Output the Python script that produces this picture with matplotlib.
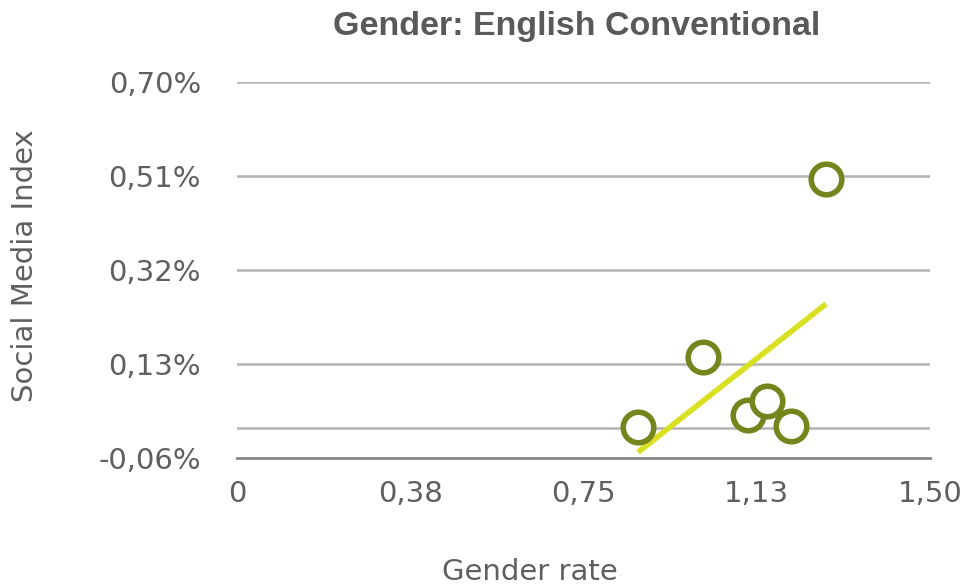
import numpy as np
import matplotlib.pyplot as plt

plt.rcParams['font.family'] = ['DejaVu Sans']

# Datos (valores en %)
gender_rate = [0.868, 1.009, 1.106, 1.147, 1.199, 1.275]
social_index = [0.003, 0.144, 0.027, 0.055, 0.005, 0.504]

x_ticks = [0, 0.375, 0.75, 1.125, 1.5]
x_labels = ["0", "0,38", "0,75", "1,13", "1,50"]
y_ticks = [-0.06, 0.13, 0.32, 0.51, 0.70]
y_labels = ["-0,06%", "0,13%", "0,32%", "0,51%", "0,70%"]

txt = "#5f5f5f"
grid_c = "#b3b3b3"

fig = plt.figure(figsize=(9.66, 5.86), dpi=100)
ax = fig.add_axes([237 / 966, 1 - 458 / 586, 693 / 966, 376 / 586])

for y in y_ticks[1:]:
    ax.axhline(y, color=grid_c, lw=1.8, zorder=1)
ax.axhline(0, color=grid_c, lw=1.8, zorder=1)

# linea de tendencia (regresion lineal)
m, b = np.polyfit(gender_rate, social_index, 1)
xs = np.array([min(gender_rate), max(gender_rate)])
ax.plot(xs, m * xs + b, color="#d9e021", lw=4, zorder=2, solid_capstyle="butt")

ax.plot(gender_rate, social_index, "o", ms=22, mfc="white", mec="#76841e",
        mew=4, zorder=3)

ax.set_xlim(0, 1.5)
ax.set_ylim(-0.06, 0.70)
ax.set_xticks(x_ticks)
ax.set_xticklabels(x_labels)
ax.set_yticks(y_ticks)
ax.set_yticklabels(y_labels)
ax.tick_params(length=0, labelsize=21, labelcolor=txt)
ax.tick_params(axis="y", pad=26)
ax.tick_params(axis="x", pad=16)

for s in ["top", "right", "left"]:
    ax.spines[s].set_visible(False)
ax.spines["bottom"].set_color("#868686")
ax.spines["bottom"].set_linewidth(2)

fig.text(25 / 966, 1 - 266 / 586, "Social Media Index", rotation=90,
         ha="center", va="center", fontsize=21, color=txt)
fig.text(530 / 966, 1 - 572 / 586, "Gender rate", ha="center", va="center",
         fontsize=21, color=txt)
fig.text(577 / 966, 1 - 26 / 586, "Gender: English Conventional", ha="center",
         va="center", fontsize=24.5, fontweight="bold", color="#595959",
         family="Liberation Sans")

fig.savefig("out.png", dpi=100)
